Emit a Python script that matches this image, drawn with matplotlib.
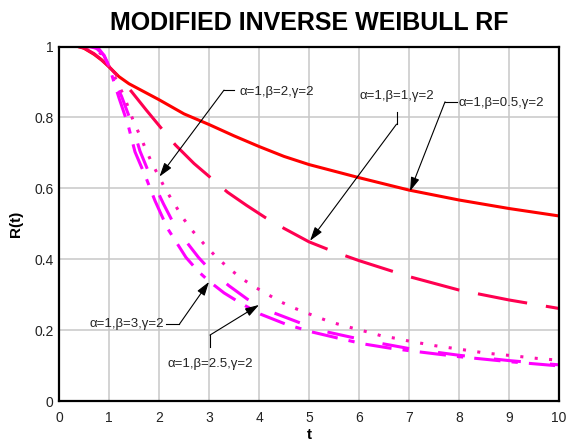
import matplotlib
matplotlib.use("Agg")
import matplotlib.pyplot as plt

plt.rcParams["font.family"] = ["Liberation Sans", "DejaVu Sans"]
plt.rcParams["lines.scale_dashes"] = False

# values
t_b05 = [0.38, 0.5, 0.7, 0.85, 1.0, 1.2, 1.4, 1.6, 2.0, 2.5, 3.0, 3.5, 4.0, 4.5, 5.0, 6.0, 7.0, 8.0, 9.0, 10.0]
r_b05 = [1.0, 0.995, 0.978, 0.962, 0.943, 0.915, 0.895, 0.88, 0.85, 0.81, 0.78, 0.748, 0.718, 0.69, 0.667, 0.63, 0.595, 0.567, 0.543, 0.522]

t_b1 = [0.38, 0.5, 0.7, 0.85, 1.0, 1.25, 1.45, 1.75, 2.09, 2.33, 2.7, 3.09, 3.37, 3.75, 4.12, 4.5, 5.0, 5.5, 6.0, 7.0, 8.0, 9.0, 10.0]
r_b1 = [1.0, 0.996, 0.98, 0.963, 0.943, 0.905, 0.873, 0.82, 0.762, 0.722, 0.67, 0.623, 0.589, 0.552, 0.518, 0.487, 0.449, 0.421, 0.396, 0.351, 0.313, 0.285, 0.261]

t_b2 = [0.55, 0.7, 0.85, 1.0, 1.15, 1.32, 1.41, 1.52, 1.64, 1.74, 1.87, 2.01, 2.15, 2.31, 2.47, 2.67, 2.9, 3.14, 3.4,
        3.65, 3.91, 4.17, 4.43, 4.69, 4.94, 5.2, 5.45, 5.71, 5.97, 6.22, 6.47, 6.73, 7.0, 7.52, 8.02, 8.54, 9.05, 9.57, 10.0]
r_b2 = [1.0, 0.995, 0.978, 0.945, 0.905, 0.854, 0.818, 0.779, 0.743, 0.708, 0.668, 0.63, 0.592, 0.556, 0.518, 0.48, 0.443, 0.407, 0.374,
        0.346, 0.322, 0.301, 0.28, 0.263, 0.249, 0.235, 0.222, 0.212, 0.202, 0.193, 0.183, 0.177, 0.169, 0.156, 0.146, 0.135, 0.128, 0.12, 0.115]

t_b25 = [0.6, 0.75, 0.9, 1.0, 1.1, 1.25, 1.45, 1.62, 1.83, 2.09, 2.35, 2.79, 3.02, 3.4, 3.77, 4.29, 4.81, 5.29, 5.84, 6.34, 7.0, 8.0, 9.0, 10.0]
r_b25 = [1.0, 0.995, 0.975, 0.945, 0.905, 0.86, 0.785, 0.705, 0.633, 0.556, 0.485, 0.405, 0.37, 0.325, 0.287, 0.249, 0.221, 0.197, 0.18, 0.165, 0.148, 0.129, 0.114, 0.102]

t_b3 = [0.65, 0.8, 0.9, 1.0, 1.1, 1.2, 1.38, 1.52, 1.74, 1.92, 2.17, 2.54, 2.79, 3.0, 3.3, 3.62, 4.03, 4.55, 5.05, 5.59, 6.09, 6.62, 7.0, 8.0, 9.0, 10.0]
r_b3 = [1.0, 0.993, 0.975, 0.945, 0.9, 0.855, 0.78, 0.703, 0.63, 0.565, 0.487, 0.405, 0.365, 0.338, 0.305, 0.277, 0.245, 0.216, 0.195, 0.177, 0.161, 0.149, 0.142, 0.125, 0.111, 0.099]

x_ticks = [0, 1, 2, 3, 4, 5, 6, 7, 8, 9, 10]
y_ticks = [0, 0.2, 0.4, 0.6, 0.8, 1]
y_labels = ["0", "0.2", "0.4", "0.6", "0.8", "1"]

fig = plt.figure(figsize=(5.67, 4.43), dpi=100)
ax = fig.add_axes([0.104, 0.0948, 0.882, 0.8002])

ax.plot(t_b05, r_b05, color="#ff0000", lw=2.2, zorder=3)
ax.plot(t_b1, r_b1, color="#ff0050", lw=2.2, dashes=(36, 13.7), dash_capstyle="butt", zorder=3)
ax.plot(t_b2, r_b2, color="#ff10b0", lw=2.2, dashes=(2.2, 8.2), dash_capstyle="butt", zorder=3)
ax.plot(t_b25, r_b25, color="#ff00ff", lw=2.2, dashes=(19.5, 21), dash_capstyle="butt", zorder=3)
ax.plot(t_b3, r_b3, color="#ff00ff", lw=2.2, dashes=(19, 8, 4.5, 8), dash_capstyle="butt", zorder=3)

ax.set_xlim(0, 10)
ax.set_ylim(0, 1)
ax.set_xticks(x_ticks)
ax.set_yticks(y_ticks)
ax.set_yticklabels(y_labels)
ax.tick_params(axis="both", length=0, labelsize=10, colors="#222222")
ax.tick_params(axis="x", pad=7)
ax.tick_params(axis="y", pad=4)
ax.grid(True, color="#c8c8c8", lw=1.1, zorder=0)
ax.set_axisbelow(True)
for s in ax.spines.values():
    s.set_linewidth(1.6)
    s.set_zorder(5)

ax.set_title("MODIFIED INVERSE WEIBULL RF", fontsize=18, fontweight="bold", pad=12)
ax.set_xlabel("t", fontsize=11, fontweight="bold", labelpad=2)
ax.set_ylabel("R(t)", fontsize=11, fontweight="bold", labelpad=8)

# annotations: label, leader bend, arrow tip
arrow = dict(arrowstyle="-|>,head_length=0.7,head_width=0.22", color="black", lw=0.8,
             mutation_scale=12, shrinkA=0, shrinkB=0)
fs = 9.5

ax.text(3.6, 0.872, "α=1,β=2,γ=2", fontsize=fs, va="center", ha="left", color="#222222")
ax.plot([3.3, 3.5], [0.877, 0.877], color="black", lw=0.8)
ax.annotate("", xy=(2.01, 0.633), xytext=(3.3, 0.877), arrowprops=arrow)

ax.text(6.75, 0.861, "α=1,β=1,γ=2", fontsize=fs, va="center", ha="center", color="#222222")
ax.plot([6.75, 6.75], [0.816, 0.781], color="black", lw=0.8)
ax.annotate("", xy=(5.02, 0.452), xytext=(6.75, 0.781), arrowprops=arrow)

ax.text(7.98, 0.841, "α=1,β=0.5,γ=2", fontsize=fs, va="center", ha="left", color="#222222")
ax.plot([7.72, 7.95], [0.844, 0.844], color="black", lw=0.8)
ax.annotate("", xy=(7.02, 0.592), xytext=(7.72, 0.844), arrowprops=arrow)

ax.text(2.1, 0.217, "α=1,β=3,γ=2", fontsize=fs, va="center", ha="right", color="#222222")
ax.plot([2.15, 2.41], [0.217, 0.217], color="black", lw=0.8)
ax.annotate("", xy=(3.0, 0.336), xytext=(2.41, 0.217), arrowprops=arrow)

ax.text(3.02, 0.104, "α=1,β=2.5,γ=2", fontsize=fs, va="center", ha="center", color="#222222")
ax.plot([3.02, 3.02], [0.153, 0.186], color="black", lw=0.8)
ax.annotate("", xy=(4.0, 0.271), xytext=(3.02, 0.186), arrowprops=arrow)

fig.savefig("out.png", dpi=100)
